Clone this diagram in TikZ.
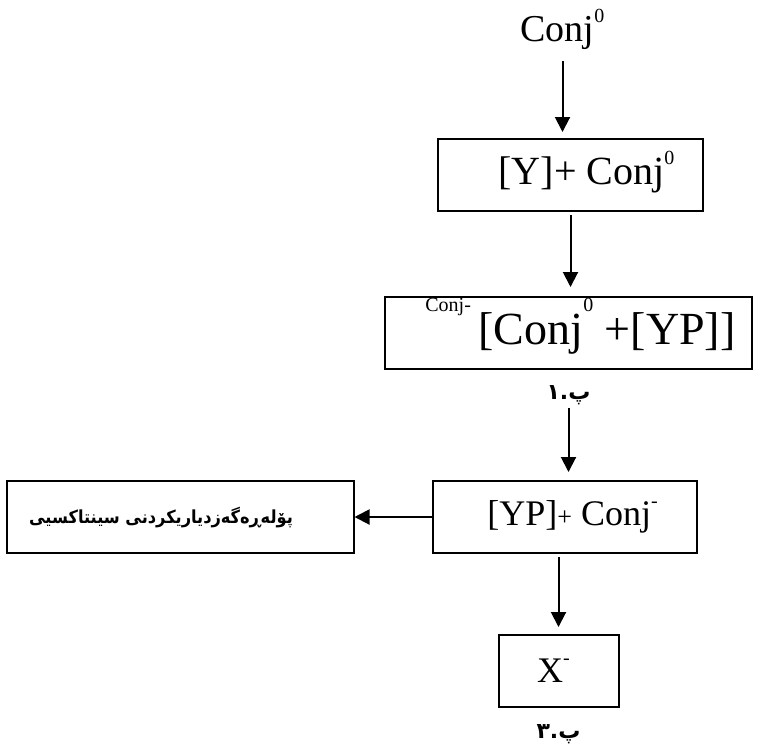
\documentclass[tikz,border=0pt]{standalone}
\usepackage{fontspec}
\setmainfont{Liberation Serif}
\newfontfamily\kurdfont[Script=Arabic]{DejaVu Sans}
\newfontfamily\kurdnarrow[Script=Arabic]{DejaVu Sans Condensed}
\TeXXeTstate=1
\usetikzlibrary{arrows.meta,positioning}

\newcommand{\supr}[2][0.5em]{\smash{\raisebox{#1}{\fontsize{20}{20}\selectfont #2}}}
\newcommand{\smallplus}{{\fontsize{26}{26}\selectfont+}}

\begin{document}
\begin{tikzpicture}[
    node distance=80pt and 77pt,
    box/.style={draw, rectangle, line width=2pt, minimum height=72pt, inner sep=0pt},
    word/.style={inner sep=0pt, font=\fontsize{38}{40}\selectfont},
    kurd/.style={inner sep=0pt, font=\fontsize{22}{26}\selectfont\kurdfont\bfseries},
    arrow/.style={draw, line width=2pt, -{Triangle[length=15pt,width=15pt]}}
]
    \useasboundingbox (0,0) rectangle (767pt,-748pt);

    % Conj chain
    \node[box, minimum width=265pt, font=\fontsize{40}{42}\selectfont] (yconj) at (570.5pt,-175pt) {\hspace*{32pt}[Y]+ Conj\supr{0}};
    \node[word, above=88pt of yconj, xshift=-8pt] (conj) {Conj\supr{0}};
    \node[box, minimum width=367pt, font=\fontsize{46}{48}\selectfont, below=84pt of yconj, xshift=-2pt] (conjyp) {\hspace*{24pt}\supr[0.7em]{Conj-}\,[Conj\supr[0.7em]{0} +[YP]]};
    \node[kurd, below=15pt of conjyp] (step1) {\beginR پ.١\endR};

    % YP + Conj
    \node[box, minimum width=264pt, font=\fontsize{36}{38}\selectfont, below=110pt of conjyp, xshift=-4pt] (ypconj) {\hspace*{16pt}[YP]\smallplus\ Conj\supr{-}};
    \node[box, minimum width=347pt, kurd, font=\fontsize{18}{22}\selectfont\kurdnarrow\bfseries, left=77pt of ypconj] (synclass) {\beginR پۆلەڕەگەزدیاریکردنی سینتاکسیی\endR\hspace*{38pt}};
    \node[box, minimum width=120pt, font=\fontsize{36}{38}\selectfont, below=80pt of ypconj, xshift=-6pt] (xminus) {X\supr{-}\hspace*{10pt}};
    \node[kurd, below=16pt of xminus] (step3) {\beginR پ.٣\endR};

    % Arrows
    \path[arrow, shorten <=11pt, shorten >=6pt] (conj.south) -- (conj.south |- yconj.north);
    \path[arrow, shorten <=3pt, shorten >=9pt] (yconj.south) -- (yconj.south |- conjyp.north);
    \path[arrow, shorten <=3pt, shorten >=8pt] (step1.south) -- (step1.south |- ypconj.north);
    \path[arrow] (ypconj.west) -- (synclass.east);
    \path[arrow, shorten <=3pt, shorten >=7pt] (xminus.north |- ypconj.south) -- (xminus.north);

\end{tikzpicture}
\end{document}
